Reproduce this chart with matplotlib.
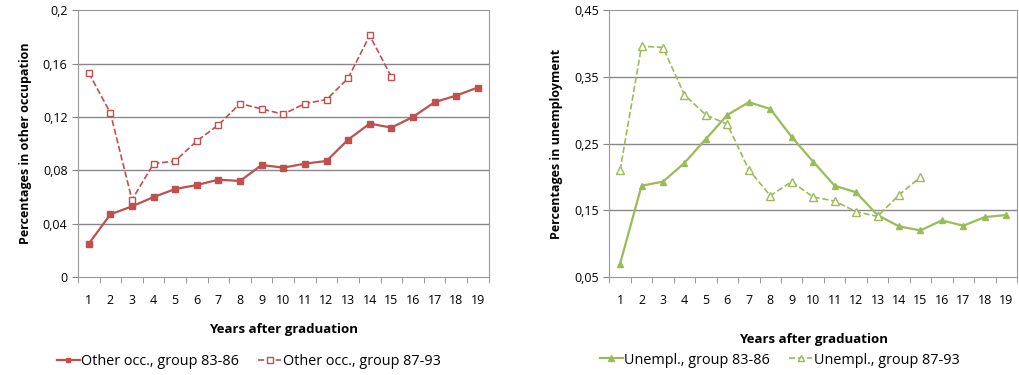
import numpy as np
import matplotlib.pyplot as plt
from matplotlib.lines import Line2D

years = list(range(1, 20))
occ_8386 = [0.025, 0.047, 0.053, 0.060, 0.066, 0.069, 0.073, 0.072, 0.084, 0.082,
            0.085, 0.087, 0.103, 0.115, 0.112, 0.120, 0.131, 0.136, 0.142]
occ_8793 = [0.153, 0.123, 0.058, 0.085, 0.087, 0.102, 0.114, 0.130, 0.126, 0.122,
            0.130, 0.133, 0.149, 0.181, 0.150]
unemp_8386 = [0.070, 0.187, 0.193, 0.221, 0.257, 0.293, 0.312, 0.302, 0.260, 0.223,
              0.187, 0.177, 0.143, 0.126, 0.120, 0.135, 0.127, 0.140, 0.143]
unemp_8793 = [0.210, 0.396, 0.394, 0.323, 0.293, 0.279, 0.211, 0.172, 0.193, 0.170,
              0.164, 0.148, 0.141, 0.173, 0.200]

occ_ticks = [0, 0.04, 0.08, 0.12, 0.16, 0.2]
occ_labels = ["0", "0,04", "0,08", "0,12", "0,16", "0,2"]
unemp_ticks = [0.05, 0.15, 0.25, 0.35, 0.45]
unemp_labels = ["0,05", "0,15", "0,25", "0,35", "0,45"]

plt.rcParams['font.family'] = ['Open Sans', 'DejaVu Sans']
red = '#C0504D'
green = '#9BBB59'

fig = plt.figure(figsize=(10.19, 3.75), dpi=100)
ax1 = fig.add_axes([0.0765, 0.261, 0.403, 0.712])
ax2 = fig.add_axes([0.598, 0.261, 0.400, 0.712])


def style(ax, ticks, labels, ylabel):
    ax.set_xlim(0.5, 19.5)
    ax.set_ylim(ticks[0], ticks[-1])
    ax.set_yticks(ticks)
    ax.set_yticklabels(labels, fontsize=9)
    ax.set_xticks(years)
    ax.set_xticklabels([str(y) for y in years], fontsize=9)
    ax.set_xticks(np.arange(0.5, 20, 1), minor=True)
    ax.tick_params(axis='x', which='major', length=0, pad=12.5)
    ax.tick_params(axis='x', which='minor', length=4, color='#888888')
    ax.tick_params(axis='y', length=4, color='#888888')
    for y in ticks[1:-1]:
        ax.axhline(y, color='#888888', lw=1, zorder=0)
    for s in ax.spines.values():
        s.set_color('#999999')
    ax.set_ylabel(ylabel, fontsize=9, fontweight='bold', labelpad=8)
    ax.set_xlabel("Years after graduation", fontsize=9.5, fontweight='bold')


ax1.plot(years, occ_8386, color=red, lw=1.6, marker='s', ms=4)
ax1.plot(years[:len(occ_8793)], occ_8793, color=red, lw=1.2, ls='--',
         marker='s', ms=5, mfc='white')
style(ax1, occ_ticks, occ_labels, "Percentages in other occupation")
ax1.xaxis.labelpad = 11.5

ax2.plot(years, unemp_8386, color=green, lw=1.6, marker='^', ms=5)
ax2.plot(years[:len(unemp_8793)], unemp_8793, color=green, lw=1.2, ls='--',
         marker='^', ms=6, mfc='white')
style(ax2, unemp_ticks, unemp_labels, "Percentages in unemployment")
ax2.xaxis.labelpad = 18.5

leg_kw = dict(loc='center', ncol=2, frameon=False, fontsize=10.4,
              handlelength=1.6, columnspacing=1.3, handletextpad=0.1)
h1 = [Line2D([], [], color=red, lw=1.6, marker='s', ms=3),
      Line2D([], [], color=red, lw=1.2, ls='--', marker='s', ms=4, mfc='white')]
fig.legend(h1, ["Other occ., group 83-86", "Other occ., group 87-93"],
           bbox_to_anchor=(0.244, 0.035), **leg_kw)
h2 = [Line2D([], [], color=green, lw=1.6, marker='^', ms=4),
      Line2D([], [], color=green, lw=1.2, ls='--', marker='^', ms=5, mfc='white')]
fig.legend(h2, ["Unempl., group 83-86", "Unempl., group 87-93"],
           bbox_to_anchor=(0.765, 0.04), **leg_kw)

fig.savefig("out.png", dpi=100)
